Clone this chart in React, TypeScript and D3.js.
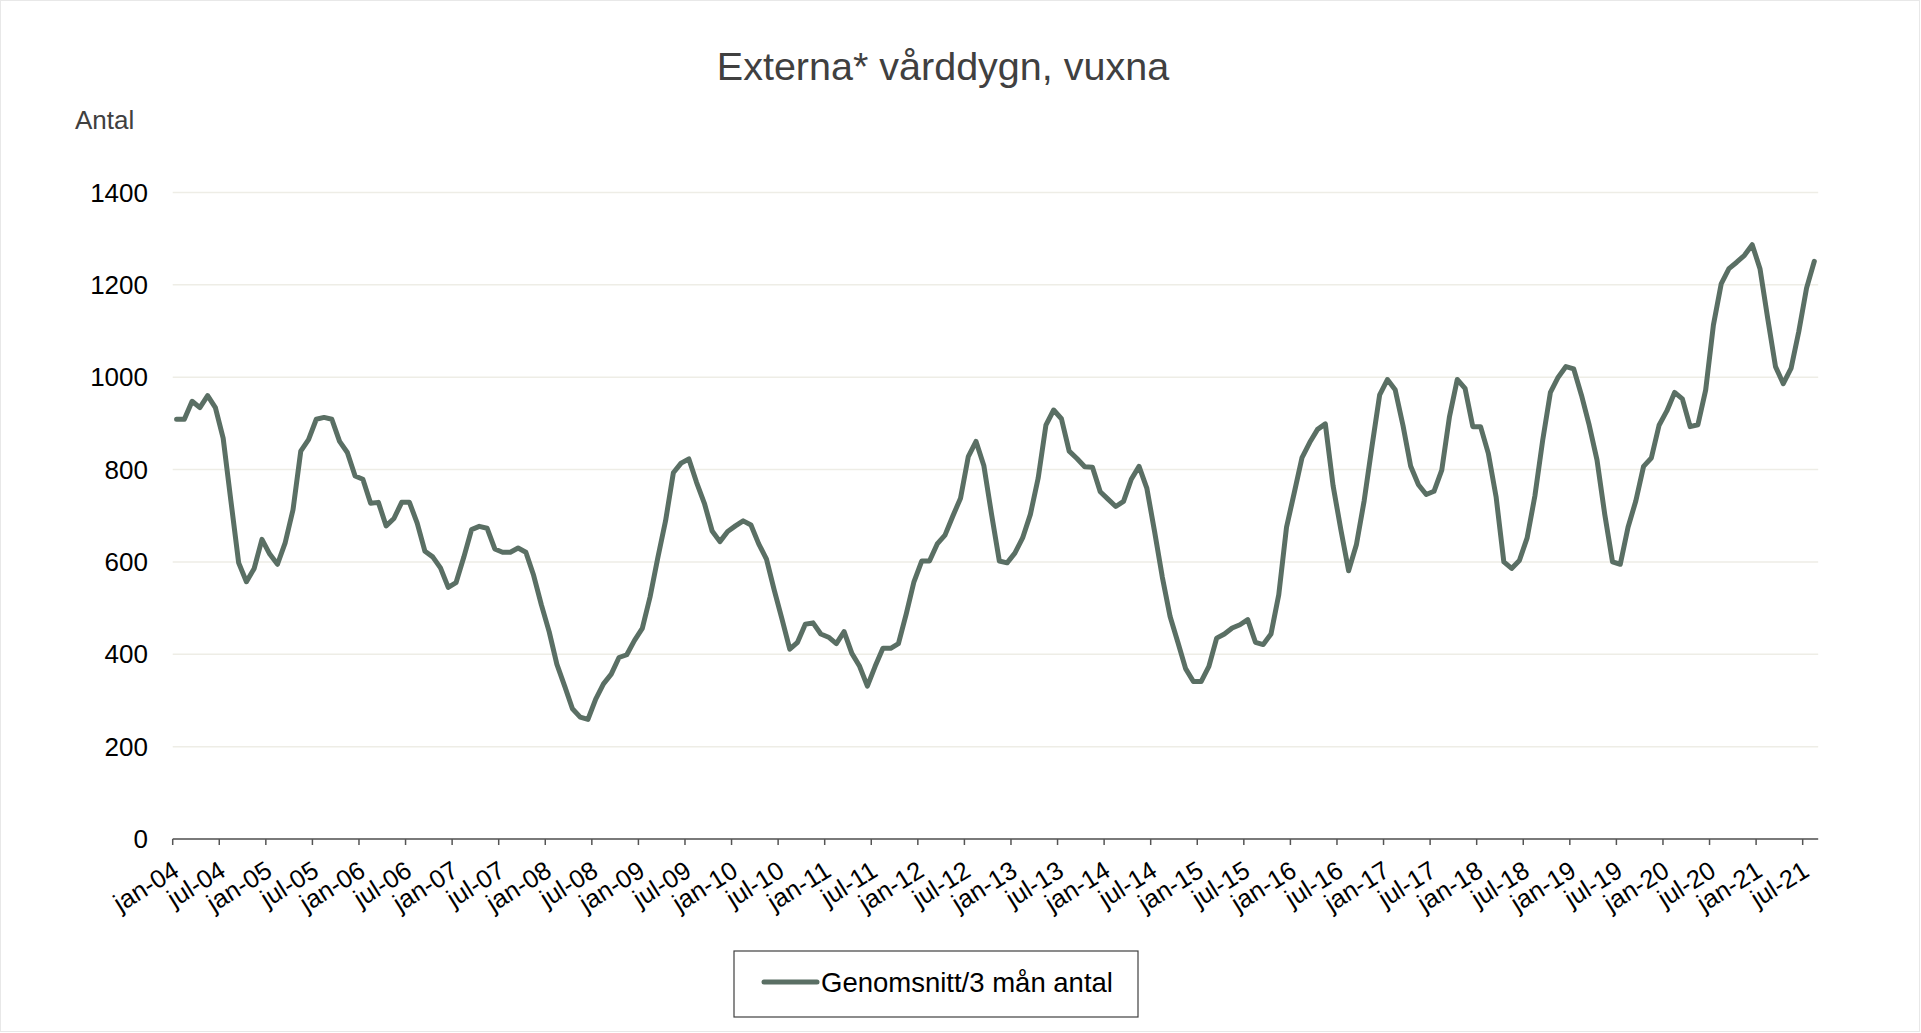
import React from 'react'
import * as d3 from 'd3'

const width = 1921
const height = 1033

const title = 'Externa* vårddygn, vuxna'
const yLabel = 'Antal'
const seriesName = 'Genomsnitt/3 mån antal'

const monthNames = ['jan', 'feb', 'mar', 'apr', 'maj', 'jun', 'jul', 'aug', 'sep', 'okt', 'nov', 'dec']
const startYear = 2004

// 3-month averages, jan-04 .. aug-21
const values = [
    909, 909, 948, 934, 960, 934, 868, 732, 598, 557, 586, 649,
    617, 595, 642, 713, 840, 865, 909, 913, 909, 861, 837, 786,
    779, 727, 729, 678, 694, 729, 729, 684, 623, 611, 587, 545,
    555, 610, 670, 677, 673, 628, 621, 621, 630, 621, 571, 507,
    449, 378, 331, 282, 264, 259, 303, 336, 357, 393, 399, 430,
    456, 524, 609, 689, 793, 814, 823, 772, 727, 667, 644, 666,
    678, 689, 680, 639, 606, 539, 476, 411, 426, 465, 468, 444,
    437, 423, 449, 402, 374, 331, 374, 413, 413, 423, 487, 557,
    602, 602, 639, 658, 699, 738, 828, 861, 809, 703, 602, 598,
    619, 652, 703, 781, 896, 929, 910, 840, 824, 806, 805, 752,
    736, 720, 731, 779, 807, 760, 666, 567, 482, 426, 369, 341,
    341, 374, 435, 444, 457, 464, 475, 426, 421, 444, 529, 675,
    750, 826, 859, 887, 899, 765, 670, 581, 637, 732, 849, 962,
    995, 973, 896, 807, 767, 746, 753, 799, 915, 995, 976, 893,
    893, 835, 741, 600, 586, 603, 652, 743, 863, 967, 1000, 1023,
    1018, 961, 896, 821, 703, 600, 595, 675, 732, 807, 825, 896,
    927, 967, 953, 893, 897, 972, 1113, 1202, 1235, 1249, 1264, 1287,
    1235, 1127, 1023, 986, 1019, 1099, 1193, 1251,
]

const tickLabels = [
    'jan-04', 'jul-04', 'jan-05', 'jul-05', 'jan-06', 'jul-06', 'jan-07', 'jul-07',
    'jan-08', 'jul-08', 'jan-09', 'jul-09', 'jan-10', 'jul-10', 'jan-11', 'jul-11',
    'jan-12', 'jul-12', 'jan-13', 'jul-13', 'jan-14', 'jul-14', 'jan-15', 'jul-15',
    'jan-16', 'jul-16', 'jan-17', 'jul-17', 'jan-18', 'jul-18', 'jan-19', 'jul-19',
    'jan-20', 'jul-20', 'jan-21', 'jul-21',
]

const yTicks = [0, 200, 400, 600, 800, 1000, 1200, 1400]

const categories = values.map((_, i) => {
    const y = startYear + Math.floor(i / 12)
    return `${monthNames[i % 12]}-${String(y).slice(2)}`
})

const font = '"Liberation Sans", Arial, sans-serif'
const lineColor = '#5a6f64'

export default function App() {
    const x = d3.scaleLinear().domain([0, categories.length]).range([172.7, 1818.2])
    const y = d3.scaleLinear().domain([0, 1400]).range([839, 192.5])

    const line = d3
        .line<number>()
        .x((_, i) => x(i + 0.5))
        .y((d) => y(d))

    const x0 = x.range()[0]
    const x1 = x.range()[1]

    return (
        <svg
            width={width}
            height={height}
            style={{ position: 'absolute', left: 0, top: 0, display: 'block', background: '#fff' }}
            fontFamily={font}
        >
            <rect x={0.5} y={0.5} width={width - 2} height={height - 2} fill="#fff" stroke="#e8e8e8" />

            <text x={943} y={80} textAnchor="middle" fontSize={39.5} fill="#404040">
                {title}
            </text>
            <text x={75} y={129} fontSize={26} fill="#404040">
                {yLabel}
            </text>

            {yTicks.map((t) => (
                <g key={t}>
                    {t > 0 && <line x1={x0} x2={x1} y1={y(t)} y2={y(t)} stroke="#eeede6" strokeWidth={1.5} />}
                    <text x={148} y={y(t)} dy="0.35em" textAnchor="end" fontSize={26} fill="#000">
                        {t}
                    </text>
                </g>
            ))}

            <line x1={x0} x2={x1} y1={y(0)} y2={y(0)} stroke="#7a7a7a" strokeWidth={2} />
            {tickLabels.map((label, i) => {
                const tx = x(i * 6)
                return (
                    <g key={label}>
                        <line x1={tx} x2={tx} y1={y(0)} y2={y(0) + 6} stroke="#555" strokeWidth={1.5} />
                        <text
                            transform={`translate(${tx + 8},${y(0) + 36}) rotate(-32)`}
                            textAnchor="end"
                            fontSize={25.5}
                            fill="#000"
                        >
                            {label}
                        </text>
                    </g>
                )
            })}

            <path
                d={line(values) || ''}
                fill="none"
                stroke={lineColor}
                strokeWidth={5}
                strokeLinejoin="round"
                strokeLinecap="round"
            />

            <rect x={734} y={951} width={404} height={66} fill="#fff" stroke="#404040" strokeWidth={1.2} />
            <line x1={764} x2={817} y1={982} y2={982} stroke={lineColor} strokeWidth={5} strokeLinecap="round" />
            <text x={821} y={992} fontSize={27.5} fill="#000">
                {seriesName}
            </text>
        </svg>
    )
}
